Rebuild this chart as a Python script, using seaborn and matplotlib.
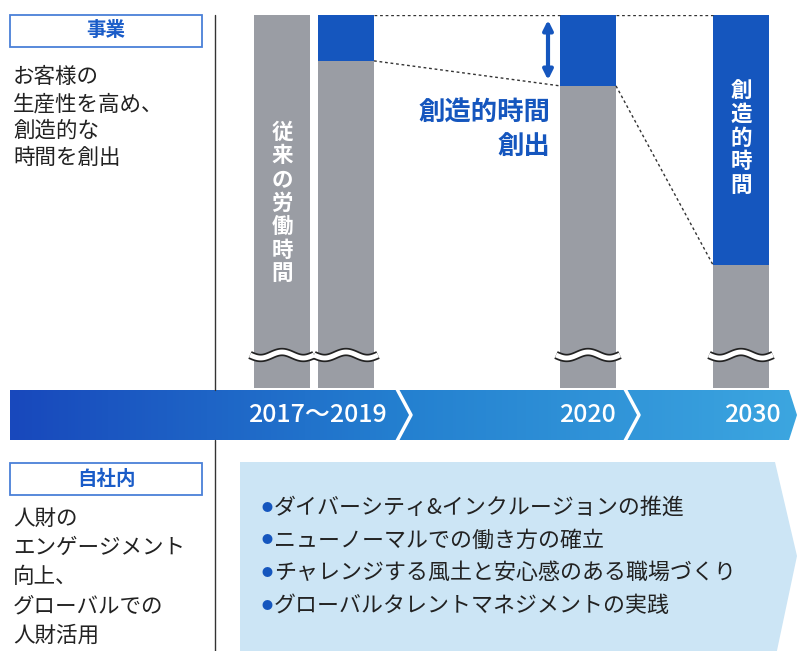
import numpy as np
import matplotlib
matplotlib.use("Agg")
import matplotlib.pyplot as plt
from matplotlib.patches import Polygon, Rectangle
import seaborn as sns

sns.set_theme(style="white")
plt.rcParams['font.family'] = ['Noto Sans CJK JP', 'DejaVu Sans']

# --- data ---
periods = ["2017〜2019", "2020", "2030"]
bar_names = ["従来", "2019", "2020", "2030"]
total_time = [100, 100, 100, 100]          # visible working-time bar (axis broken below)
creative_time = [0, 12.3, 19.0, 67.0]     # share turned into creative time
bar_x = [282, 346, 588, 741]              # bar centres (layout, px)
period_x = [317, 587, 752]

left_top = "お客様の\n生産性を高め、\n創造的な\n時間を創出"
left_bottom = "人財の\nエンゲージメント\n向上、\nグローバルでの\n人財活用"
actions = ["ダイバーシティ&インクルージョンの推進",
           "ニューノーマルでの働き方の確立",
           "チャレンジする風土と安心感のある職場づくり",
           "グローバルタレントマネジメントの実践"]

BLUE = "#1556BE"
GRAY = "#9A9DA4"
LBLUE = "#CCE5F5"
TXT = "#222222"

W, H = 797, 651
fig = plt.figure(figsize=(W / 100, H / 100), dpi=100)

# bar axes: y from 388px (0) to 15px (100)
y_top, y_base = 15, 388
bax = fig.add_axes([0, (H - y_base) / H, 1, (y_base - y_top) / H])
gray_h = [t - c for t, c in zip(total_time, creative_time)]
sns.barplot(x=bar_x, y=total_time, native_scale=True, orient="x", width=56 / 64,
            color=BLUE, saturation=1, linewidth=0, errorbar=None, ax=bax)
sns.barplot(x=bar_x, y=gray_h, native_scale=True, orient="x", width=56 / 64,
            color=GRAY, saturation=1, linewidth=0, errorbar=None, ax=bax)
bax.set_xlim(0, W)
bax.set_ylim(0, 100)
bax.axis("off")

# dotted connectors between bars
half = 28
for i in (1, 2):
    x0, x1 = bar_x[i] + half, bar_x[i + 1] - half
    bax.plot([x0, x1], [total_time[i], total_time[i + 1]], ls=(0, (2, 2)), color="#333", lw=1)
    bax.plot([x0, x1], [gray_h[i], gray_h[i + 1]], ls=(0, (2, 2)), color="#333", lw=1)

# overlay axes in pixel coordinates, on top of the bars
ax = fig.add_axes([0, 0, 1, 1], zorder=3)
ax.patch.set_alpha(0)
ax.set_xlim(0, W)
ax.set_ylim(H, 0)
ax.axis("off")

# vertical labels inside bars
ax.text(bar_x[0], 203, "\n".join("従来の労働時間"), color="white", fontsize=15.5, fontweight="bold",
        ha="center", va="center", linespacing=1.15)
ax.text(bar_x[3], 138, "\n".join("創造的時間"), color="white", fontsize=15.5, fontweight="bold",
        ha="center", va="center", linespacing=1.15)

# double arrow + label
ax.annotate("", xy=(548, 20), xytext=(548, 80),
            arrowprops=dict(arrowstyle="<|-|>", color=BLUE, lw=3, mutation_scale=14, shrinkA=0, shrinkB=0))
ax.text(550, 112, "創造的時間", color=BLUE, fontsize=19, fontweight="bold", ha="right", va="center")
ax.text(550, 146, "創出", color=BLUE, fontsize=19, fontweight="bold", ha="right", va="center")

# break marks
t = np.linspace(0, 1, 60)
for bx in bar_x:
    xs = bx - 32 + 64 * t
    ys = 355 + 3 * np.sin(t * 3 * np.pi)
    ax.plot(xs, ys, color="#222", lw=6, solid_capstyle="butt", zorder=5)
    ax.plot(xs, ys, color="white", lw=3.5, solid_capstyle="butt", zorder=6)

# timeline band with gradient
band = Polygon([(10, 390), (789, 390), (797, 415), (789, 440), (10, 440)], closed=True,
               facecolor="none", edgecolor="none")
ax.add_patch(band)
grad = np.linspace(0, 1, 256).reshape(1, -1)
cmap = matplotlib.colors.LinearSegmentedColormap.from_list("tl", ["#1848BC", "#2480D0", "#3CA6E0"])
im = ax.imshow(grad, extent=[10, 797, 440, 390], cmap=cmap, aspect="auto", zorder=2)
im.set_clip_path(band)
ax.set_xlim(0, W)
ax.set_ylim(H, 0)
for cx in (397, 625):
    ax.plot([cx, cx + 14, cx], [389, 415, 441], color="white", lw=2.5, zorder=3)
for px, lab in zip(period_x, periods):
    ax.text(px, 415, lab, color="white", fontsize=18, fontweight="medium", ha="center", va="center", zorder=4)

# left divider
ax.plot([215, 215], [15, 390], color="#333", lw=1)
ax.plot([215, 215], [440, H], color="#333", lw=1)

# category boxes
for y0, lab in ((15, "事業"), (463, "自社内")):
    ax.add_patch(Rectangle((10, y0), 192, 32, facecolor="white", edgecolor="#4A80D8", lw=1.3))
    ax.text(106, y0 + 16, lab, color="#1A5CC8", fontsize=14, fontweight="bold", ha="center", va="center")

ax.text(13, 66, left_top, color=TXT, fontsize=15.5, ha="left", va="top", linespacing=1.3)
ax.text(13, 508, left_bottom, color=TXT, fontsize=15.5, ha="left", va="top", linespacing=1.42)

# action panel
ax.add_patch(Polygon([(240, 462), (775, 462), (797, 556), (775, 660), (240, 660)], closed=True,
                     facecolor=LBLUE, edgecolor="none"))
for i, a in enumerate(actions):
    y = 508 + 32.5 * i
    ax.text(262, y, "●", color=BLUE, fontsize=8, ha="left", va="center")
    ax.text(274, y, a, color=TXT, fontsize=15.8, ha="left", va="center")

fig.savefig("out.png", dpi=100)
